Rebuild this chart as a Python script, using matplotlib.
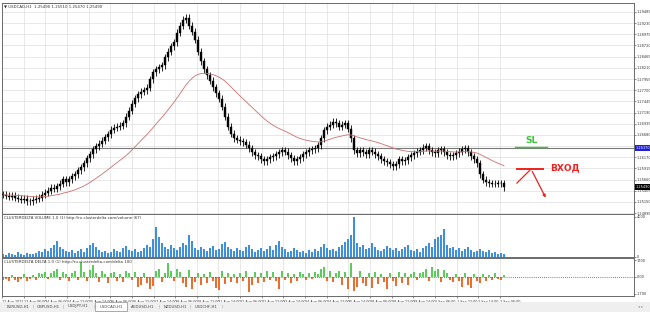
import matplotlib
matplotlib.use("Agg")
import matplotlib.pyplot as plt
import matplotlib.transforms as mtransforms
from matplotlib.patches import Rectangle
import numpy as np
import pandas as pd

W, H = 650, 312

# ---------------- data ----------------
closes = [
    1.2531, 1.2529, 1.2527, 1.2529, 1.2524, 1.2522, 1.2520, 1.2522, 1.2517, 1.2517,
    1.2520, 1.2522, 1.2524, 1.2531, 1.2536, 1.2540, 1.2547, 1.2545, 1.2551, 1.2556,
    1.2567, 1.2560, 1.2567, 1.2574, 1.2578, 1.2587, 1.2594, 1.2603, 1.2615, 1.2624,
    1.2635, 1.2642, 1.2648, 1.2655, 1.2662, 1.2669, 1.2680, 1.2684, 1.2687, 1.2689,
    1.2694, 1.2709, 1.2723, 1.2739, 1.2752, 1.2761, 1.2766, 1.2770, 1.2775, 1.2795,
    1.2811, 1.2818, 1.2822, 1.2827, 1.2845, 1.2858, 1.2870, 1.2879, 1.2901, 1.2917,
    1.2931, 1.2935, 1.2917, 1.2903, 1.2885, 1.2858, 1.2836, 1.2818, 1.2804, 1.2791,
    1.2777, 1.2763, 1.2750, 1.2732, 1.2709, 1.2687, 1.2671, 1.2660, 1.2657, 1.2653,
    1.2651, 1.2646, 1.2637, 1.2628, 1.2621, 1.2619, 1.2612, 1.2608, 1.2612, 1.2617,
    1.2619, 1.2624, 1.2628, 1.2633, 1.2630, 1.2621, 1.2615, 1.2608, 1.2612, 1.2617,
    1.2624, 1.2628, 1.2633, 1.2635, 1.2637, 1.2644, 1.2660, 1.2678, 1.2687, 1.2691,
    1.2698, 1.2694, 1.2687, 1.2691, 1.2694, 1.2682, 1.2660, 1.2633, 1.2626, 1.2633,
    1.2628, 1.2624, 1.2633, 1.2630, 1.2624, 1.2619, 1.2612, 1.2608, 1.2606, 1.2601,
    1.2596, 1.2601, 1.2612, 1.2608, 1.2610, 1.2617, 1.2621, 1.2626, 1.2630, 1.2633,
    1.2639, 1.2642, 1.2633, 1.2628, 1.2626, 1.2633, 1.2635, 1.2628, 1.2621, 1.2619,
    1.2621, 1.2626, 1.2630, 1.2635, 1.2637, 1.2628, 1.2619, 1.2612, 1.2603, 1.2578,
    1.2565, 1.2560, 1.2558, 1.2556, 1.2556, 1.2558, 1.2558, 1.2549,
]
first_open = 1.2533

volume = [
    300, 200, 400, 300, 200, 500, 300, 200, 400, 300,
    300, 400, 600, 500, 800, 600, 900, 1200, 1600, 1000,
    800, 600, 500, 700, 400, 600, 800, 500, 900, 1200,
    1400, 1000, 700, 500, 600, 400, 500, 800, 600, 500,
    900, 1100, 700, 600, 800, 500, 600, 900, 1200, 1000,
    1800, 3000, 2000, 1400, 1000, 800, 1200, 900, 700, 1000,
    1400, 1200, 2200, 1600, 900, 700, 1000, 800, 600, 900,
    1100, 700, 800, 1300, 1500, 1000, 800, 600, 900, 700,
    600, 1000, 1200, 800, 500, 700, 900, 600, 800, 1100,
    700, 1200, 1600, 1000, 800, 500, 600, 900, 700, 500,
    600, 400, 700, 500, 800, 600, 1000, 1300, 900, 700,
    800, 600, 1000, 1200, 1500, 1800, 2200, 4000, 1400, 1000,
    1200, 800, 900, 1400, 1000, 700, 600, 800, 1100, 900,
    700, 900, 600, 800, 1000, 1200, 700, 600, 800, 500,
    900, 1100, 1400, 1000, 1800, 2000, 2200, 2800, 1200, 900,
    1000, 700, 900, 600, 800, 1000, 700, 500, 600, 800,
    600, 500, 700, 400, 500, 300, 400, 300,
]

delta = [
    -300, -200, -400, 200, -300, -500, -200, 300, -400, -200,
    200, -300, 400, 300, 500, -200, 400, 600, 800, -300,
    500, 300, -400, 400, 600, -300, 1500, 500, -400, 700,
    1200, 400, -500, 600, 300, -600, 400, 500, -400, 300,
    -500, 600, 400, -300, 500, -1000, -800, 400, -600, -1200,
    -900, 600, 800, -500, 400, 1400, 600, -400, 800, 500,
    -600, -1000, 700, -1200, -500, 400, -800, 300, -600, 500,
    -400, -1100, -1300, 600, -700, 400, -500, 300, -600, 400,
    -400, 600, -1500, -800, 500, -600, 400, -500, 600, -300,
    500, -400, -1200, 600, -300, 400, -600, 300, -400, 500,
    300, -300, 400, -200, 500, 300, 800, 1000, -400, 600,
    -500, 400, 600, -800, 500, -1200, 1400, -1400, -1000, 600,
    -600, -900, 400, -1100, 500, -700, 300, -500, -1200, 400,
    -400, -900, 500, -600, 400, -800, 300, 500, -300, 400,
    500, 800, -400, 1000, 600, 800, -500, 700, 400, -300,
    -500, 300, -400, -1000, 400, -800, -1100, 300, -400, -600,
    300, -400, 200, -300, 400, -200, -300, 200,
]

price_ticks = [1.29485, 1.29230, 1.28975, 1.28720, 1.28465, 1.28210, 1.27955,
               1.27700, 1.27445, 1.27190, 1.26935, 1.26680, 1.26425, 1.26170,
               1.25915, 1.25660, 1.25405, 1.25150, 1.24895]

date_labels = ["12 Aug 2022", "13 Aug 06:00", "14 Aug 06:00", "14 Aug 22:00",
               "15 Aug 14:00", "16 Aug 06:00", "16 Aug 22:00", "17 Aug 14:00",
               "18 Aug 06:00", "18 Aug 22:00", "21 Aug 14:00", "22 Aug 06:00",
               "22 Aug 22:00", "23 Aug 14:00", "24 Aug 06:00", "24 Aug 22:00",
               "25 Aug 14:00", "28 Aug 06:00", "28 Aug 22:00", "29 Aug 14:00",
               "1 Sep 06:00", "1 Sep 22:00", "2 Sep 14:00", "3 Sep 06:00"]

tabs = ["EURUSD,H1", "GBPUSD,H1", "USDJPY,H1", "USDCAD,H1",
        "AUDUSD,H1", "NZDUSD,H1", "USDCHF,H1"]
active_tab = "USDCAD,H1"

level_price = 1.2637      # grey horizontal line (SL level)
ema_span = 32

# ---------------- figure ----------------
plt.rcParams['font.family'] = ['DejaVu Sans']
fig = plt.figure(figsize=(W / 100, H / 100), dpi=100)
fig.patch.set_facecolor('white')


def px_axes(l, t, r, b):
    return fig.add_axes([l / W, 1 - b / H, (r - l) / W, (b - t) / H])


def ftext(x, y, s, **kw):
    fig.text(x / W, 1 - y / H, s, **kw)


PX_PER_BAR = 3.0
x0 = -1 / 3
x1 = x0 + 632 / PX_PER_BAR
n = len(closes)
idx = np.arange(n)
tick_idx = np.arange(len(date_labels)) * 21.65 / PX_PER_BAR - 0.4

ax = px_axes(2, 3, 634, 213.5)
axv = px_axes(2, 214, 634, 257)
axd = px_axes(2, 258, 634, 296)

grid_kw = dict(color='#dedede', lw=0.5)
label_color = '#333333'
FS = 2.5
for a in (ax, axv, axd):
    a.set_xlim(x0, x1)
    a.set_facecolor('white')
    a.set_xticks(tick_idx)
    a.grid(axis='x', **grid_kw)
    a.set_axisbelow(True)
    for s in a.spines.values():
        s.set_color('#6a6a6a')
        s.set_linewidth(0.7)
    a.yaxis.tick_right()
    a.tick_params(axis='y', labelsize=FS, length=1.2, width=0.4, pad=0.6,
                  colors=label_color)
for a in (ax, axv):
    a.tick_params(axis='x', length=0, labelbottom=False)

# ---- price pane ----
ax.set_ylim(1.24885, 1.29690)
ax.set_yticks(price_ticks)
# the tick label hidden under the highlighted level box is left blank
ax.set_yticklabels(["" if abs(p - level_price) < 0.001 else f"{p:.5f}"
                    for p in price_ticks])
ax.grid(axis='y', **grid_kw)

opens = np.array([first_open] + closes[:-1])
cl = np.array(closes)
wick = 0.0008
highs = np.maximum(opens, cl) + wick
lows = np.minimum(opens, cl) - wick
ax.vlines(idx, lows, highs, color='black', lw=0.6, zorder=3)
body_bottom = np.minimum(opens, cl)
body_h = np.maximum(np.abs(cl - opens), 0.00008)
ax.bar(idx, body_h, bottom=body_bottom, width=0.62, color='black',
       edgecolor='black', lw=0.3, zorder=4)

ema = pd.Series(closes).ewm(span=ema_span, adjust=False).mean()
ax.plot(idx, ema, color='#c9706e', lw=0.6, zorder=5)

ax.axhline(level_price, color='#7a7a7a', lw=0.8, zorder=2)

blend = mtransforms.blended_transform_factory(ax.transAxes, ax.transData)
ax.text(1.003, level_price, f"{level_price:.5f}", transform=blend, fontsize=FS,
        color='white', va='center', ha='left', zorder=10,
        bbox=dict(facecolor='#2020d8', edgecolor='none', pad=0.7))
ax.text(1.003, closes[-1], f"{closes[-1]:.5f}", transform=blend, fontsize=FS,
        color='white', va='center', ha='left', zorder=10,
        bbox=dict(facecolor='black', edgecolor='none', pad=0.7))

# annotations: SL / ВХОД
sl_x = (170.7, 181.3)
sl_y = 1.2641
ax.plot(sl_x, (sl_y, sl_y), color='#3cc43c', lw=1.0, zorder=6)
ax.text(176.0, 1.2655, "SL", color='#3cc43c', fontsize=6.5, fontweight='bold',
        ha='center', va='center', zorder=6)
entry_y = 1.2590
ax.plot((171.3, 180.0), (entry_y, entry_y), color='#ee2020', lw=1.4, zorder=6)
ax.plot((171.3, 176.0), (1.2558, entry_y), color='#ee2020', lw=0.9, zorder=6)
ax.annotate("", xy=(181.3, 1.2519), xytext=(176.0, entry_y),
            arrowprops=dict(arrowstyle='-|>', color='#ee2020', lw=0.9,
                            mutation_scale=4), zorder=6)
ax.text(182.3, 1.2592, "ВХОД", color='#ee2020', fontsize=6.5, fontweight='bold',
        ha='left', va='center', zorder=6)

# ---- volume pane ----
axv.set_ylim(0, 4300)
axv.bar(idx, volume, width=0.7, color='#3e8fdc', lw=0)
axv.set_yticks([0, 4000])
axv.set_yticklabels(["0", "4000"])

# ---- delta pane ----
axd.set_ylim(-1950, 1950)
d = np.array(delta)
cols = np.where(d >= 0, '#5ccb5c', '#ea6e30')
axd.bar(idx, d, width=0.7, color=cols, lw=0)
axd.axhline(0, color='#555555', lw=0.6, ls=(0, (1, 1.5)))
axd.set_yticks([1700, 0, -1700])
axd.set_yticklabels(["1700", "0.00", "-1700"])
axd.set_xticklabels(date_labels)
axd.tick_params(axis='x', labelsize=2.4, length=1.5, width=0.4, pad=1.2,
                colors=label_color)
for t in axd.get_xticklabels():
    t.set_ha('left')

# ---- texts ----
ftext(4, 7, "▼ USDCAD,H1  1.25490 1.25510 1.25470 1.25490", fontsize=2.8,
      color=label_color, va='center')
ftext(4, 218.5, "CLUSTERDELTA VOLUME 1.0 (1) http://ru.clusterdelta.com/volume (67)",
      fontsize=2.8, color=label_color, va='center')
ftext(4, 262, "CLUSTERDELTA DELTA 1.0 (1) http://ru.clusterdelta.com/delta 100",
      fontsize=2.8, color=label_color, va='center')

# ---- tab bar ----
fig.patches.append(Rectangle((0, 0), 1, 10 / H, transform=fig.transFigure,
                             facecolor='#efefef', edgecolor='none', zorder=0))
tab_centers = [18, 48, 78, 111, 143, 175, 206]
for name, cx in zip(tabs, tab_centers):
    if name == active_tab:
        fig.patches.append(Rectangle((95 / W, 1 / H), 32 / W, 9 / H,
                                     transform=fig.transFigure, facecolor='white',
                                     edgecolor='#8a8a8a', lw=0.5, zorder=1))
    ftext(cx, 306.5, name, fontsize=2.8, color='#444444', ha='center',
          va='center', zorder=2)
for sx in [33, 63, 94, 159, 190, 222]:
    ftext(sx, 306.5, "|", fontsize=3.2, color='#999999', ha='center', va='center')
ftext(641, 307, "◂ ▸", fontsize=2.8, color='#999999', ha='center', va='center')

fig.savefig("out.png", dpi=100, facecolor='white')
